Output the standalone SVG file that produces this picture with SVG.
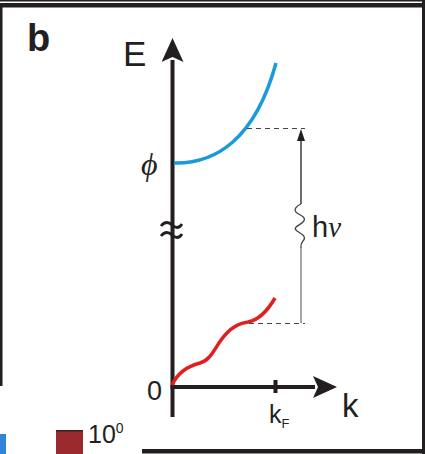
<svg xmlns="http://www.w3.org/2000/svg" width="425" height="454" viewBox="0 0 425 454">
<style>
.frame{fill:#231f20}
.axis{stroke:#231f20;stroke-width:4;fill:none}
.dash{stroke:#444;stroke-width:1.2;stroke-dasharray:5,4;fill:none}
.sans{font-family:"Liberation Sans",Arial,sans-serif;fill:#231f20}
.serif{font-family:"Liberation Serif","Times New Roman",serif;font-style:italic;fill:#231f20}
</style>
<defs>
<marker id="bigHead" viewBox="0 0 24 22" refX="2" refY="11" markerWidth="24" markerHeight="22" markerUnits="userSpaceOnUse" orient="auto">
<path d="M0,0 L24,11 L0,22 L5,11 Z" fill="#231f20"/>
</marker>
</defs>
<g id="frame">
<rect class="frame" x="0" y="0" width="425" height="1.5"/>
<rect class="frame" x="0" y="3" width="425" height="4.5"/>
<rect class="frame" x="0" y="7" width="2.5" height="379"/>
<rect class="frame" x="422" y="0" width="3" height="454"/>
<rect class="frame" x="142" y="449" width="283" height="4.5"/>
</g>
<g id="legend">
<rect x="0" y="434" width="6" height="20" fill="#2f86d8"/>
<rect x="56" y="431" width="27" height="23" fill="#9a2a2e"/>
<rect x="56" y="430" width="27" height="1.5" fill="#3a2020"/>
<text class="sans" x="88" y="443" font-size="25">10<tspan font-size="14" dy="-10">0</tspan></text>
</g>
<g id="label-b"><text class="sans" x="27" y="51" font-size="38" font-weight="bold">b</text></g>
<g id="connectors">
<line class="axis" x1="172.5" y1="417" x2="172.5" y2="60" marker-end="url(#bigHead)"/>
<line class="axis" x1="170.5" y1="387" x2="315" y2="387" marker-end="url(#bigHead)"/>
<line class="axis" x1="275.5" y1="380" x2="275.5" y2="393"/>
<path d="M161,226 C165,221 169,222 172,225 C175,228 179,229 182,224" stroke="#231f20" stroke-width="2.8" fill="none"/>
<path d="M161,236 C165,231 169,232 172,235 C175,238 179,239 182,234" stroke="#231f20" stroke-width="2.8" fill="none"/>
<path d="M174,163 C215,164 255,140 276,63" stroke="#1a9ad8" stroke-width="3.5" fill="none"/>
<path d="M172,385 C178,372 188,366 200,363 C212,360 216,344 226,334 C233,326 240,323 248,322 C259,320 268,310 275,298" stroke="#e0201e" stroke-width="3.5" fill="none"/>
<line class="dash" x1="247" y1="128.5" x2="305" y2="128.5"/>
<line class="dash" x1="249" y1="323.5" x2="305" y2="323.5"/>
<line x1="301" y1="140" x2="301" y2="204" stroke="#231f20" stroke-width="1.3"/>
<path d="M301,129 L305,141 L297,141 Z" fill="#231f20"/>
<path d="M301,204 C296,206 293,210 297,213 C302,216 307,218 303,222 C299,226 292,227 297,231 C302,234 307,237 303,241 C300,244 301,246 301,248" stroke="#444" stroke-width="1.3" fill="none"/>
<line x1="301" y1="248" x2="301" y2="323" stroke="#777" stroke-width="1.3"/>
</g>
<g id="labels">
<text class="sans" x="123" y="66" font-size="35">E</text>
<text class="serif" x="141" y="175" font-size="32">ϕ</text>
<text class="sans" x="147" y="400" font-size="27">0</text>
<text class="sans" x="342" y="417" font-size="33">k</text>
<text class="sans" x="269" y="423" font-size="25">k<tspan font-size="13" dy="5">F</tspan></text>
<text class="sans" x="312" y="237" font-size="29">h<tspan class="serif" font-style="italic">ν</tspan></text>
</g>
</svg>
